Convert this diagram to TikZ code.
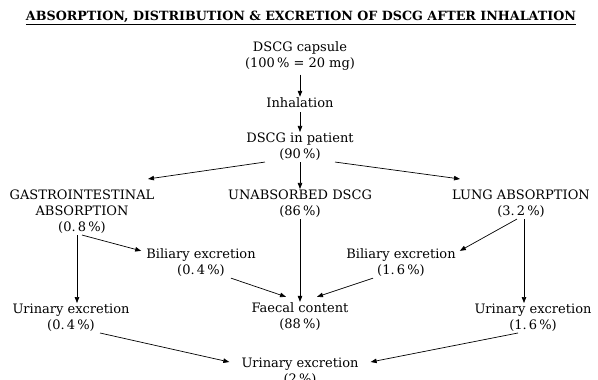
\documentclass[tikz,border=0pt]{standalone}
\usepackage{fontspec}
\setmainfont{DejaVu Serif}
\usetikzlibrary{arrows.meta}
\tikzset{
  txt/.style={align=center, inner sep=1pt, font=\fontsize{13}{16}\selectfont},
  arr/.style={-{Triangle[length=6pt,width=4.5pt]}, line width=0.7pt},
}

\begin{document}
\begin{tikzpicture}[x=1pt,y=-1pt]
  \clip (0,0) rectangle (598,380);

  \node (title) at (301,18) {\fontsize{12.7}{14}\selectfont\bfseries\underline{ABSORPTION, DISTRIBUTION \& EXCRETION OF DSCG AFTER INHALATION}};

  \node [txt] (caps) at (300,56) {DSCG capsule\\(100\,\% = 20 mg)};
  \node [txt] (inh) at (300,103) {Inhalation};
  \node [txt] (patient) at (300,147) {DSCG in patient\\(90\,\%)};

  \node [txt] (gi) at (82,212) {GASTROINTESTINAL\\ABSORPTION\\(0.\,8\,\%)};
  \node [txt] (unabs) at (300,204) {UNABSORBED DSCG\\(86\,\%)};
  \node [txt] (lung) at (521,204) {LUNG ABSORPTION\\(3.\,2\,\%)};

  \node [txt] (bilL) at (201,263) {Biliary excretion\\(0.\,4\,\%)};
  \node [txt] (bilR) at (401,263) {Biliary excretion\\(1.\,6\,\%)};

  \node [txt] (urinL) at (71,318) {Urinary excretion\\(0.\,4\,\%)};
  \node [txt] (faecal) at (300,317) {Faecal content\\(88\,\%)};
  \node [txt] (urinR) at (533,318) {Urinary excretion\\(1.\,6\,\%)};

  \node [txt] (urin) at (300,372) {Urinary excretion\\(2\,\%)};

  % main stem
  \draw [arr, shorten <=3pt] (caps) -- (inh);
  \draw [arr, shorten <=3pt] (inh) -- (patient);

  % branches
  \draw [arr] ([xshift=-35pt]patient.south) -- ([xshift=66pt,yshift=10pt]gi.north);
  \draw [arr] (patient) -- (unabs);
  \draw [arr] ([xshift=35pt]patient.south) -- ([xshift=-61pt,yshift=10pt]lung.north);

  \draw [arr] ([xshift=-5pt]gi.south) -- ([xshift=-5pt]gi.south |- urinL.north);
  \draw [arr] (gi.south) -- ([xshift=-4pt,yshift=-3pt]bilL.north west);
  \draw [arr] (unabs) -- (faecal);
  \draw [arr] ([xshift=-4pt]lung.south) -- ([xshift=3pt,yshift=-3pt]bilR.north east);
  \draw [arr] ([xshift=3pt]lung.south) -- ([xshift=3pt]lung.south |- urinR.north);

  \draw [arr] ([xshift=30pt]bilL.south) -- ([xshift=-14pt,yshift=5pt]faecal.north);
  \draw [arr] ([xshift=-28pt]bilR.south) -- ([xshift=17pt,yshift=5pt]faecal.north);

  \draw [arr] ([xshift=29pt]urinL.south) -- ([xshift=-11pt,yshift=-5pt]urin.north west);
  \draw [arr] ([xshift=-15pt]urinR.south) -- ([xshift=11pt,yshift=-5pt]urin.north east);

\end{tikzpicture}
\end{document}
